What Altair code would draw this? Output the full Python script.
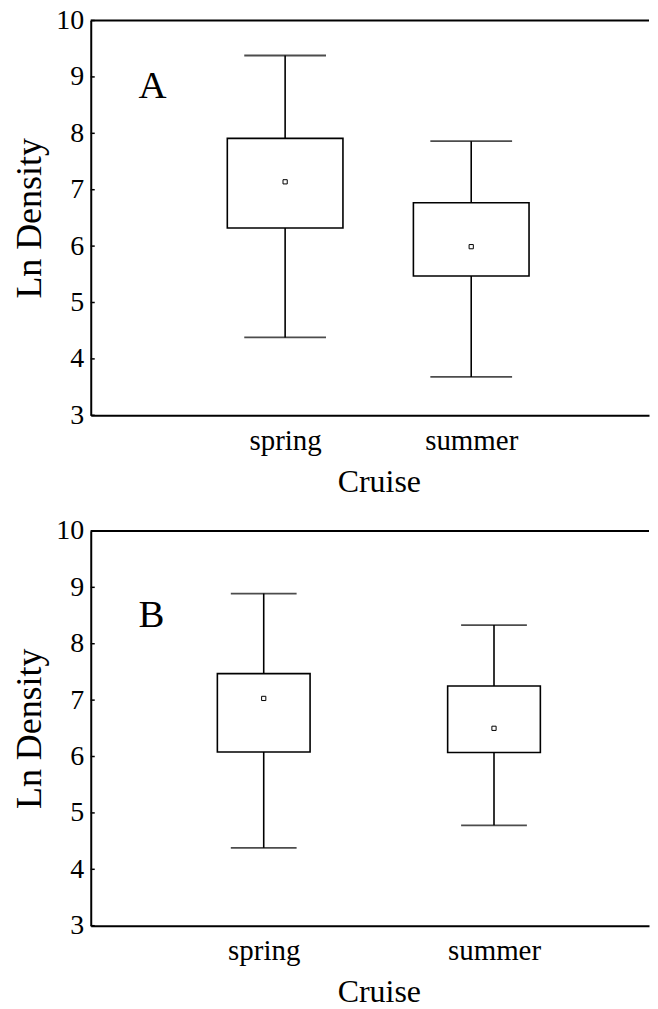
import altair as alt
import pandas as pd

cruise = ["spring", "summer"]

# Panel A
a_low = [4.38, 3.68]
a_q1 = [6.32, 5.47]
a_mid = [7.14, 5.99]
a_q3 = [7.91, 6.77]
a_high = [9.38, 7.86]

# Panel B
b_low = [4.38, 4.78]
b_q1 = [6.08, 6.07]
b_mid = [7.03, 6.50]
b_q3 = [7.47, 7.25]
b_high = [8.89, 8.33]

y_ticks = [3, 4, 5, 6, 7, 8, 9, 10]
panel_letters = ["A", "B"]

FONT = "Liberation Serif"
W = 560
H = 396


def panel(letter, low, q1, mid, q3, high, pad, align, box_w, cap_w, letter_x, letter_y):
    df = pd.DataFrame({"Cruise": cruise, "low": low, "q1": q1, "mid": mid,
                       "q3": q3, "high": high})
    xenc = alt.X("Cruise:N", sort=cruise,
                 scale=alt.Scale(type="point", padding=pad, align=align),
                 axis=alt.Axis(title="Cruise", labelAngle=0, ticks=False, tickSize=0,
                               labelPadding=11, titlePadding=11, labelFontSize=29,
                               titleFontSize=32, titleX=289))
    yscale = alt.Scale(domain=[3, 10], nice=False, zero=False)
    yaxis = alt.Axis(title="Ln Density", values=y_ticks, format="d", ticks=False, tickSize=0,
                     labelPadding=7, titlePadding=7, labelFontSize=28,
                     titleFontSize=36, grid=False)
    base = alt.Chart(df)
    whisk = base.mark_rule(color="black", strokeWidth=1.6).encode(
        x=xenc, y=alt.Y("low:Q", scale=yscale, axis=yaxis), y2="high:Q")
    cap_lo = base.mark_tick(color="black", size=cap_w, thickness=1.8).encode(
        x=alt.X("Cruise:N", sort=cruise), y="low:Q")
    cap_hi = base.mark_tick(color="black", size=cap_w, thickness=1.8).encode(
        x=alt.X("Cruise:N", sort=cruise), y="high:Q")
    box = base.mark_bar(size=box_w, fill="white", stroke="black", strokeWidth=1.6).encode(
        x=alt.X("Cruise:N", sort=cruise), y="q1:Q", y2="q3:Q")
    pt = base.mark_point(shape="square", size=18, fill="white", stroke="black",
                         strokeWidth=1, opacity=1).encode(
        x=alt.X("Cruise:N", sort=cruise), y="mid:Q")
    top = alt.Chart(pd.DataFrame({"k": [0]})).mark_rule(color="black", strokeWidth=2).encode(
        x=alt.value(0), x2=alt.value(W), y=alt.value(0))
    tk = alt.Chart(pd.DataFrame({"t": y_ticks})).mark_rule(color="black", strokeWidth=1.5).encode(
        y=alt.Y("t:Q", scale=yscale), x=alt.value(0), x2=alt.value(4))
    lab = alt.Chart(pd.DataFrame({"l": [letter]})).mark_text(
        font=FONT, fontSize=39, align="left", baseline="alphabetic", color="black").encode(
        text="l:N", x=alt.value(letter_x), y=alt.value(letter_y))
    return alt.layer(whisk, cap_lo, cap_hi, box, pt, top, tk, lab).properties(width=W, height=H)


pA = panel(panel_letters[0], a_low, a_q1, a_mid, a_q3, a_high, 1.4377, 0.5223, 116, 82, 48, 78)
pB = panel(panel_letters[1], b_low, b_q1, b_mid, b_q3, b_high, 0.7121, 0.5274, 93, 66, 48, 96)

chart = alt.vconcat(pA, pB, spacing=20).properties(
    padding={"left": 4, "top": -3, "right": 0, "bottom": 0}
).configure_view(stroke=None).configure_axis(
    labelFont=FONT, titleFont=FONT, labelColor="black", titleColor="black",
    domainColor="black", domainWidth=2, titleFontWeight="normal"
)

chart.save("out.html", embed_options={"renderer": "svg", "actions": False})
